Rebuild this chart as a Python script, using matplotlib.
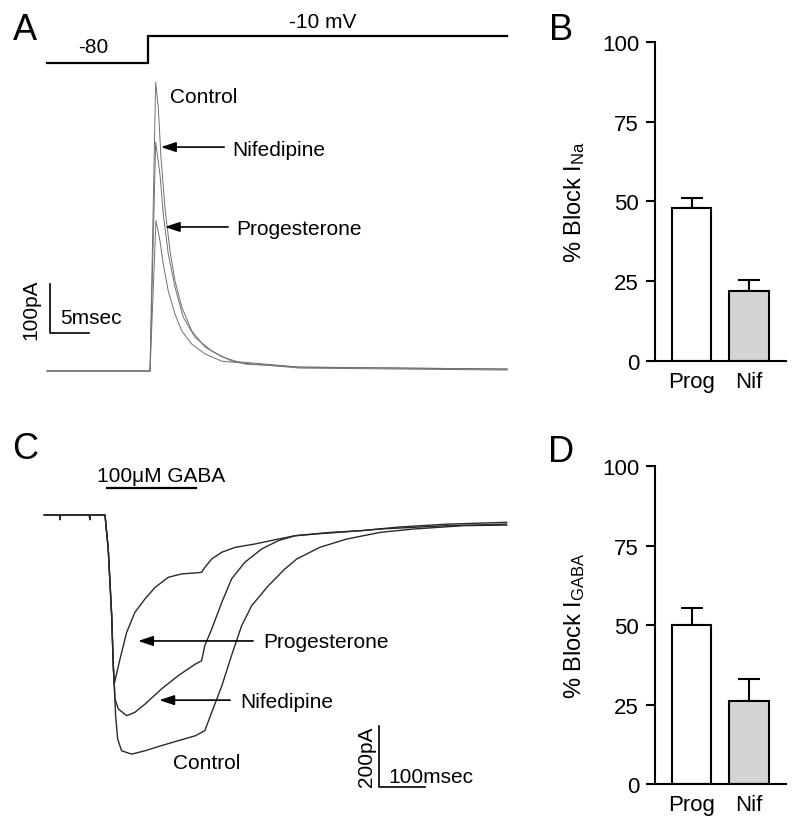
import numpy as np
import matplotlib.pyplot as plt

plt.rcParams['font.family'] = ['Liberation Sans', 'DejaVu Sans']
plt.rcParams['mathtext.fontset'] = 'custom'
plt.rcParams['mathtext.rm'] = 'Liberation Sans'
plt.rcParams['mathtext.it'] = 'Liberation Sans:italic'

# ---- panel A: Na current traces (ms, pA)
na_t_ctrl = [-13.0, 0.2, 0.92, 1.26, 1.6, 2.1, 2.76, 3.4, 4.26, 5.54, 7.24, 9.4, 12.4, 19.4, 46.0]
na_i_ctrl = [0, 0, 589, 538, 437, 335, 245, 184, 131, 82, 49, 29, 14, 8, 4]
na_t_nif = [-13.0, 0.2, 0.92, 1.47, 1.9, 2.54, 3.4, 4.46, 5.96, 8.1, 10.7, 19.4, 46.0]
na_i_nif = [0, 0, 467, 402, 320, 239, 171, 110, 69, 41, 20, 8, 4]
na_t_prog = [-13.0, 0.2, 0.96, 1.47, 1.9, 2.54, 3.4, 4.26, 5.54, 7.24, 9.4, 19.4, 46.0]
na_i_prog = [0, 0, 307, 266, 218, 163, 116, 82, 55, 35, 20, 6, 2]

# voltage command (mV)
v_hold = -80
v_test = -10
cmd_t = [-13.0, 0, 0, 46.0]
cmd_v = [v_hold, v_hold, v_test, v_test]

# ---- panel C: GABA current traces (ms, pA)
gaba_t_base = [-132, -99, -98, -97, -34, -33, -32, 0, 7, 14.5, 18, 20]
gaba_i_base = [0, 0, -15, 0, 0, -15, 0, 0, -111, -330, -494, -554]
gaba_t_ctrl = [23, 27.5, 36, 58, 87, 123, 159, 196, 217, 232, 254, 275, 297, 319, 355, 391,
               417, 467, 525, 598, 670, 779, 873]
gaba_i_ctrl = [-658, -734, -773, -784, -773, -756, -740, -724, -707, -647, -560, -461, -363,
               -297, -232, -177, -144, -106, -79, -57, -46, -35, -33]
gaba_t_nif = [21.7, 29, 47, 65, 87, 123, 159, 196, 210, 217, 232, 254, 275, 304, 341, 377,
              413, 460, 525, 598, 743, 873]
gaba_i_nif = [-603, -636, -658, -647, -620, -570, -527, -489, -478, -428, -374, -286, -210,
              -155, -111, -84, -68, -62, -55, -46, -35, -30]
gaba_t_prog = [32.6, 47, 65, 87, 109, 138, 167, 196, 210, 217, 232, 254, 283, 326, 370, 413,
               489, 562, 634, 743, 873]
gaba_i_prog = [-472, -385, -319, -275, -237, -204, -193, -190, -188, -172, -144, -122, -106,
               -95, -81, -68, -57, -51, -40, -30, -24]
gaba_app = [4, 198]

# ---- bar panels
groups = ['Prog', 'Nif']
block_na = [48, 22]
block_na_err = [3, 3.5]
block_gaba = [50, 26]
block_gaba_err = [5.5, 7]
bar_colors = ['white', '#d4d4d4']

fig = plt.figure(figsize=(8, 8.28), dpi=100)

FS = 15
arrow = dict(arrowstyle='-|>,head_length=0.9,head_width=0.3', lw=1.2, color='black',
             shrinkA=0, shrinkB=0)

# ---------------- A
axv = fig.add_axes([0.025, 0.90942, 0.61875, 0.06643])
axv.plot(cmd_t, cmd_v, color='black', lw=1.6, solid_joinstyle='miter')
axv.set_xlim(-16.47, 46.99)
axv.set_ylim(-108.5, 34.1)
axv.axis('off')
axv.text(-7.1, -38.5, '-80', fontsize=FS, ha='center', va='center')
axv.text(22.3, 28.9, '-10 mV', fontsize=FS, ha='center', va='center')

axa = fig.add_axes([0.025, 0.52295, 0.61875, 0.46498])
for t, i in [(na_t_ctrl, na_i_ctrl), (na_t_nif, na_i_nif), (na_t_prog, na_i_prog)]:
    axa.plot(t, i, color='#707070', lw=0.7)
axa.set_xlim(-16.47, 46.99)
axa.set_ylim(-46.9, 738.8)
axa.axis('off')
axa.text(2.76, 561, 'Control', fontsize=FS, ha='left', va='center')
axa.annotate('', xy=(1.6, 457), xytext=(9.7, 457), arrowprops=arrow)
axa.text(10.7, 453, 'Nifedipine', fontsize=FS, ha='left', va='center')
axa.annotate('', xy=(2.1, 294), xytext=(10.2, 294), arrowprops=arrow)
axa.text(11.3, 290, 'Progesterone', fontsize=FS, ha='left', va='center')
# scale bar 5 ms / 100 pA
sb_t, sb_i = -12.6, 78
axa.plot([sb_t, sb_t, sb_t + 5], [sb_i + 100, sb_i, sb_i], color='black', lw=1.2)
axa.text(-15.1, sb_i + 50, '100pA', fontsize=FS, rotation=90, ha='center', va='center')
axa.text(-11.35, 110, '5msec', fontsize=FS, ha='left', va='center')

# ---------------- C
axc = fig.add_axes([0.025, 0.0157, 0.61875, 0.43478])
for t, i in [(gaba_t_ctrl, gaba_i_ctrl), (gaba_t_nif, gaba_i_nif), (gaba_t_prog, gaba_i_prog)]:
    axc.plot(gaba_t_base + t, gaba_i_base + i, color='#2a2a2a', lw=1.0)
axc.set_xlim(-184.8, 891.3)
axc.set_ylim(-980.3, 200)
axc.axis('off')
axc.plot(gaba_app, [88.5, 88.5], color='black', lw=1.6)
axc.text(-17.4, 128, '100μM GABA', fontsize=FS, ha='left', va='center')
axc.annotate('', xy=(72, -413), xytext=(322, -413), arrowprops=arrow)
axc.text(343, -416, 'Progesterone', fontsize=FS, ha='left', va='center')
axc.annotate('', xy=(118, -607), xytext=(272, -607), arrowprops=arrow)
axc.text(293, -610, 'Nifedipine', fontsize=FS, ha='left', va='center')
axc.text(148, -813, 'Control', fontsize=FS, ha='left', va='center')
sc_t, sc_i = 596, -892
axc.plot([sc_t, sc_t, sc_t + 100], [sc_i + 200, sc_i, sc_i], color='black', lw=1.2)
axc.text(569, -790, '200pA', fontsize=FS, rotation=90, ha='center', va='center')
axc.text(615, -856, '100msec', fontsize=FS, ha='left', va='center')


# ---------------- B and D
def bar_panel(rect, vals, errs, ylabel):
    ax = fig.add_axes(rect)
    x = np.arange(len(groups))
    ax.bar(x, vals, width=0.68, color=bar_colors, edgecolor='black', linewidth=1.5, zorder=2)
    ax.errorbar(x, vals, yerr=[[0] * len(errs), errs], fmt='none', ecolor='black',
                elinewidth=1.5, capsize=8, capthick=1.5, zorder=1)
    ax.set_xlim(-0.635, 1.643)
    ax.set_ylim(0, 100)
    ax.set_yticks([0, 25, 50, 75, 100])
    ax.set_xticks(x)
    ax.set_xticklabels(groups)
    ax.spines['top'].set_visible(False)
    ax.spines['right'].set_visible(False)
    ax.spines['left'].set_linewidth(1.5)
    ax.spines['bottom'].set_linewidth(1.5)
    ax.tick_params(axis='y', direction='out', length=6.5, width=1.5, pad=5, labelsize=FS + 1)
    ax.tick_params(axis='x', length=0, pad=7, labelsize=FS + 1)
    ax.set_ylabel(ylabel, fontsize=FS + 2)
    ax.yaxis.set_label_coords(-0.52, 0.5)
    return ax


bar_panel([0.81875, 0.5628, 0.16375, 0.38527], block_na, block_na_err,
          r'% Block I$_{\mathrm{Na}}$')
bar_panel([0.81875, 0.05193, 0.16375, 0.38406], block_gaba, block_gaba_err,
          r'% Block I$_{\mathrm{GABA}}$')

for letter, (px, py) in zip('ABCD', [(25, 30), (561, 30), (25, 450), (561, 453)]):
    fig.text(px / 800, 1 - py / 828, letter, fontsize=26, ha='center', va='center')

fig.savefig('out.png', dpi=100)
